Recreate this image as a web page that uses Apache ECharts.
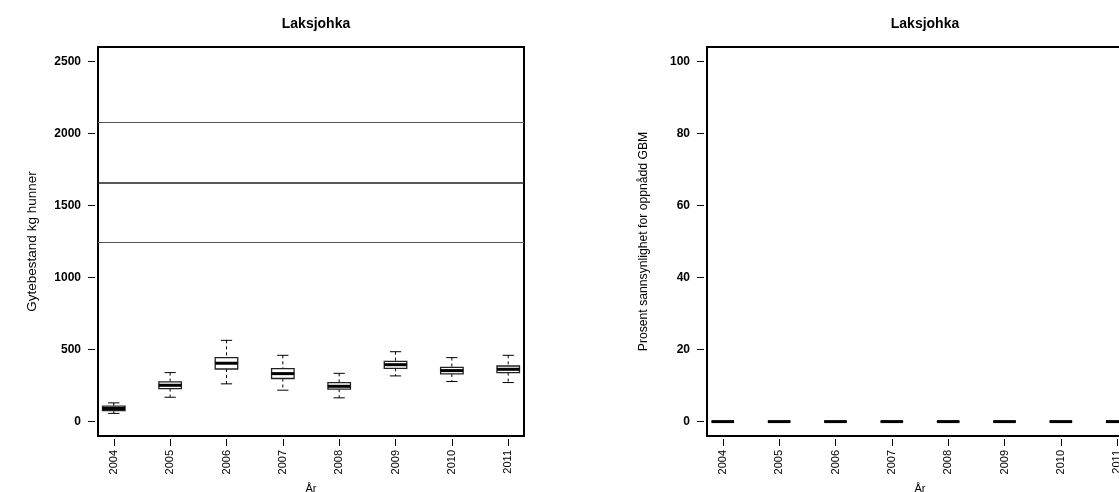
<!DOCTYPE html>
<html>
<head>
<meta charset="utf-8">
<script src="https://cdn.jsdelivr.net/npm/echarts@6/dist/echarts.min.js"></script>
<style>
  html, body { margin: 0; padding: 0; background: #fff; }
  #chart { width: 1119px; height: 492px; }
</style>
</head>
<body>
<div id="chart"></div>
<script>
// år og boksplott-verdier (gytebestand kg hunner)
var years = ['2004', '2005', '2006', '2007', '2008', '2009', '2010', '2011'];
var lowWhisker  = [57, 169, 262, 218, 165, 317, 278, 271];
var lowerQuart  = [77, 229, 365, 299, 225, 370, 331, 340];
var medians     = [91, 252, 405, 333, 245, 395, 354, 363];
var upperQuart  = [107, 275, 444, 368, 271, 418, 377, 386];
var highWhisker = [130, 340, 564, 460, 335, 485, 444, 460];
// gytebestandsmål (nedre, mål, øvre)
var targetLines = [1245, 1660, 2075];
// prosent sannsynlighet for oppnådd GBM
var probability = [0, 0, 0, 0, 0, 0, 0, 0];

var leftTicks = [0, 500, 1000, 1500, 2000, 2500];
var rightTicks = [0, 20, 40, 60, 80, 100];
var xPositions = [1, 2, 3, 4, 5, 6, 7, 8];

var font = 'Liberation Sans, Arial, Helvetica, sans-serif';

function boxRows(lo, q1, med, q3, hi) {
    var rows = [];
    for (var i = 0; i < years.length; i++) {
        rows.push([i + 1, lo[i], q1[i], med[i], q3[i], hi[i]]);
    }
    return rows;
}

// tegner boks, median, stiplede værhår og endestreker
function renderBox(params, api) {
    var x = api.value(0);
    var half = 0.2, cap = 0.1;
    var tl = api.coord([x - half, api.value(4)]);
    var br = api.coord([x + half, api.value(2)]);
    var mL = api.coord([x - half, api.value(3)]);
    var mR = api.coord([x + half, api.value(3)]);
    var top = api.coord([x, api.value(5)]);
    var q3 = api.coord([x, api.value(4)]);
    var q1 = api.coord([x, api.value(2)]);
    var bot = api.coord([x, api.value(1)]);
    var capTopL = api.coord([x - cap, api.value(5)]);
    var capTopR = api.coord([x + cap, api.value(5)]);
    var capBotL = api.coord([x - cap, api.value(1)]);
    var capBotR = api.coord([x + cap, api.value(1)]);
    var dash = { stroke: '#000', lineWidth: 1, lineDash: [3, 3] };
    var solid = { stroke: '#000', lineWidth: 1 };
    return {
        type: 'group',
        children: [
            { type: 'line', shape: { x1: top[0], y1: top[1], x2: q3[0], y2: q3[1] }, style: dash },
            { type: 'line', shape: { x1: q1[0], y1: q1[1], x2: bot[0], y2: bot[1] }, style: dash },
            { type: 'line', shape: { x1: capTopL[0], y1: capTopL[1], x2: capTopR[0], y2: capTopR[1] }, style: solid },
            { type: 'line', shape: { x1: capBotL[0], y1: capBotL[1], x2: capBotR[0], y2: capBotR[1] }, style: solid },
            { type: 'rect', shape: { x: tl[0], y: tl[1], width: br[0] - tl[0], height: br[1] - tl[1] },
              style: { fill: '#fff', stroke: '#222', lineWidth: 1.3 } },
            { type: 'line', shape: { x1: mL[0], y1: mL[1], x2: mR[0], y2: mR[1] }, style: { stroke: '#000', lineWidth: 3 } }
        ]
    };
}

function xAxisFor(gridIndex) {
    return {
        type: 'value', gridIndex: gridIndex, min: 0.72, max: 8.28, offset: 3,
        position: 'bottom',
        name: 'År', nameLocation: 'middle', nameGap: 44,
        nameTextStyle: { fontFamily: font, fontSize: 11, color: '#000' },
        axisLine: { show: false, onZero: false },
        splitLine: { show: false },
        axisTick: { show: true, length: 7, customValues: xPositions, lineStyle: { color: '#000', width: 1 } },
        axisLabel: {
            customValues: xPositions, rotate: 90, margin: 11,
            fontFamily: font, fontSize: 11, color: '#000',
            formatter: function (v) { return years[Math.round(v) - 1]; }
        }
    };
}

function yAxisFor(gridIndex, min, max, ticks, name, gap, nameSize) {
    return {
        type: 'value', gridIndex: gridIndex, min: min, max: max, offset: 3,
        position: 'left',
        name: name, nameLocation: 'middle', nameRotate: 90, nameGap: gap,
        nameTextStyle: { fontFamily: font, fontSize: nameSize, color: '#000' },
        axisLine: { show: false, onZero: false },
        splitLine: { show: false },
        axisTick: { show: true, length: 7, customValues: ticks, lineStyle: { color: '#000', width: 1 } },
        axisLabel: {
            customValues: ticks, margin: 14, fontFamily: font, fontSize: 12, fontWeight: 'bold', color: '#000',
            formatter: function (v) { return String(v); }
        }
    };
}

var chart = echarts.init(document.getElementById('chart'), null, { renderer: 'canvas' });
chart.setOption({
    backgroundColor: '#fff',
    animation: false,
    title: [
        { text: 'Laksjohka', left: 311, top: 12, textAlign: 'center',
          textStyle: { fontFamily: font, fontSize: 14, fontWeight: 'bold', color: '#000' } },
        { text: 'Laksjohka', left: 920, top: 12, textAlign: 'center',
          textStyle: { fontFamily: font, fontSize: 14, fontWeight: 'bold', color: '#000' } }
    ],
    grid: [
        { left: 98, top: 47, width: 426, height: 389, outerBoundsMode: 'none', containLabel: false,
          show: true, borderColor: '#000', borderWidth: 2, backgroundColor: 'transparent' },
        { left: 707, top: 47, width: 426, height: 389, outerBoundsMode: 'none', containLabel: false,
          show: true, borderColor: '#000', borderWidth: 2, backgroundColor: 'transparent' }
    ],
    xAxis: [xAxisFor(0), xAxisFor(1)],
    yAxis: [
        yAxisFor(0, -100, 2600, leftTicks, 'Gytebestand kg hunner', 56, 13.5),
        yAxisFor(1, -4, 104, rightTicks, 'Prosent sannsynlighet for oppnådd GBM', 54, 12.2)
    ],
    series: [
        {
            type: 'custom', xAxisIndex: 0, yAxisIndex: 0,
            data: boxRows(lowWhisker, lowerQuart, medians, upperQuart, highWhisker),
            renderItem: renderBox,
            markLine: {
                silent: true, symbol: 'none', label: { show: false },
                data: [
                    { yAxis: targetLines[0], lineStyle: { color: '#555', width: 1, type: 'solid' } },
                    { yAxis: targetLines[1], lineStyle: { color: '#222', width: 1.6, type: 'solid' } },
                    { yAxis: targetLines[2], lineStyle: { color: '#555', width: 1, type: 'solid' } }
                ]
            }
        },
        {
            type: 'custom', xAxisIndex: 1, yAxisIndex: 1,
            data: boxRows(probability, probability, probability, probability, probability),
            renderItem: renderBox
        }
    ]
});
</script>
</body>
</html>
